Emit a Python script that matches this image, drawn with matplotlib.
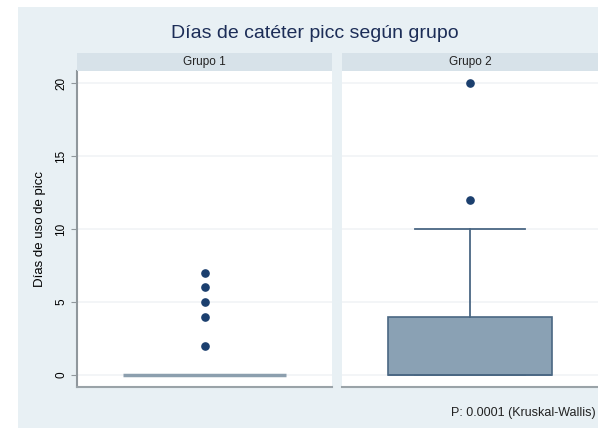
import matplotlib
matplotlib.use("Agg")
import matplotlib.pyplot as plt
from matplotlib.patches import Rectangle

plt.rcParams['font.family'] = ['Liberation Sans', 'DejaVu Sans']

# box summaries per group (days of picc catheter use)
groups = ["Grupo 1", "Grupo 2"]
q1 = [0, 0]
medians = [0, 0]
q3 = [0, 4]
whisker_low = [0, 0]
whisker_high = [0, 10]
outliers = [[2, 4, 5, 6, 7], [12, 20]]
yticks = [0, 5, 10, 15, 20]

title = "Días de catéter picc según grupo"
ylabel = "Días de uso de picc"
note = "P: 0.0001 (Kruskal-Wallis)"

W, H = 598, 428
fig = plt.figure(figsize=(W / 100, H / 100), dpi=100)
fig.patch.set_facecolor("white")

bg = "#e8f0f4"
strip_col = "#d7e2e9"
fig.add_artist(Rectangle((18 / W, 0), 1 - 18 / W, (H - 7) / H,
                         transform=fig.transFigure, facecolor=bg,
                         edgecolor="none", zorder=0))

fig.text(315 / W, 1 - 33 / H, title, ha="center", va="center",
         fontsize=14, color="#1c2d57")


def px_axes(x0, y0, x1, y1):
    return fig.add_axes([x0 / W, 1 - y1 / H, (x1 - x0) / W, (y1 - y0) / H])


panels = [(77, 332), (342, 598)]
for i, (x0, x1) in enumerate(panels):
    ax = px_axes(x0, 71, x1, 387)
    ax.set_facecolor("white")
    stats = [dict(med=medians[i], q1=q1[i], q3=q3[i],
                  whislo=whisker_low[i], whishi=whisker_high[i],
                  fliers=outliers[i])]
    flat = q3[i] == q1[i]
    ax.bxp(stats, positions=[1], widths=0.64, capwidths=0.43,
           patch_artist=True,
           boxprops=dict(facecolor="#8aa1b4", edgecolor="#4a6783", linewidth=1.2),
           medianprops=dict(color="#8c9fae" if flat else "#4a6783",
                            linewidth=2.5 if flat else 1.2),
           whiskerprops=dict(color="#4a6783", linewidth=1.3),
           capprops=dict(color="#4a6783", linewidth=1.3),
           flierprops=dict(marker="o", markersize=5.2, markerfacecolor="#1b3f6e",
                           markeredgecolor="#1b3f6e"))
    if flat:
        # collapsed box: only the median bar is shown
        for p in ax.patches:
            p.set_visible(False)
    ax.set_xlim(0.5, 1.5)
    ax.set_ylim(-0.82, 20.82)
    ax.set_xticks([])
    ax.set_yticks(yticks)
    ax.grid(axis="y", color="#f1f4f6", linewidth=1.2)
    ax.set_axisbelow(True)
    for s in ["top", "right"]:
        ax.spines[s].set_visible(False)
    ax.spines["bottom"].set_color("#9aa3a8")
    ax.spines["bottom"].set_linewidth(1.5)
    if i == 0:
        ax.spines["left"].set_color("#8f979c")
        ax.spines["left"].set_linewidth(1.5)
        ax.tick_params(axis="y", length=4, color="#8f979c", labelsize=8.5,
                       labelrotation=90, pad=3)
        for lab in ax.get_yticklabels():
            lab.set_va("center")
        ax.set_ylabel(ylabel, fontsize=9.5, labelpad=7)
    else:
        ax.spines["left"].set_visible(False)
        ax.tick_params(axis="y", length=0, labelleft=False)

    sx = px_axes(x0, 53, x1, 71)
    sx.set_facecolor(strip_col)
    sx.set_xticks([])
    sx.set_yticks([])
    for s in sx.spines.values():
        s.set_visible(False)
    sx.text(0.5, 0.5, groups[i], ha="center", va="center", fontsize=8.5,
            color="#222222", transform=sx.transAxes)

fig.text(596 / W, 1 - 413 / H, note, ha="right", va="center",
         fontsize=9, color="#222222")

fig.savefig("out.png", dpi=100, facecolor=fig.get_facecolor())
